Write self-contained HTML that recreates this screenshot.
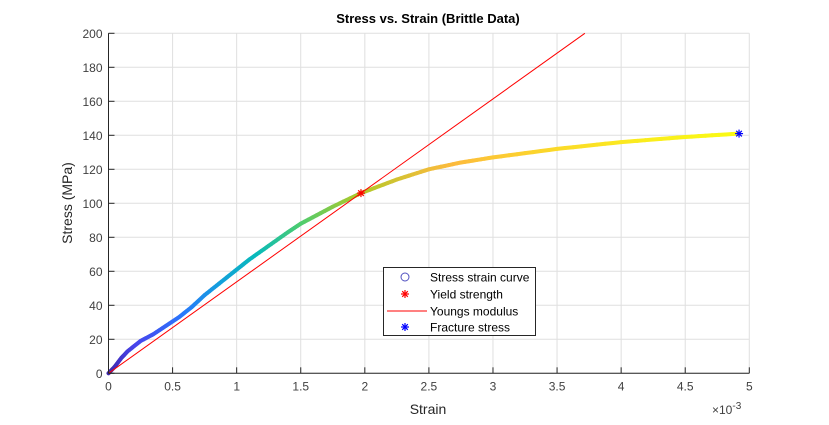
<!DOCTYPE html>
<html><head><meta charset="utf-8"><style>
body{margin:0;background:#fff;}
svg text{font-family:"Liberation Sans",Arial,sans-serif;}
</style></head><body>
<svg id="chart" width="829" height="420">
<g id="grid"></g>
<g id="series"></g>
<g id="axes"></g>
<text x="428" y="23" text-anchor="middle" font-size="13" font-weight="bold" fill="#000">Stress vs. Strain (Brittle Data)</text>
<text x="428" y="414" text-anchor="middle" font-size="14" fill="#262626">Strain</text>
<text x="712" y="414" font-size="12" fill="#404040">×10<tspan dy="-5" font-size="10">-3</tspan></text>
<text transform="translate(72,203) rotate(-90)" text-anchor="middle" font-size="14" fill="#262626">Stress (MPa)</text>
<g id="legend">
<rect x="383.5" y="267.5" width="152" height="68" fill="#fff" stroke="#262626" stroke-width="1"/>
<circle cx="405" cy="277" r="4" fill="none" stroke="#5050c0" stroke-width="1"/>
<text x="430" y="281.5" font-size="12" fill="#000">Stress strain curve</text>
<text x="430" y="298.5" font-size="12" fill="#000">Yield strength</text>
<line x1="387" y1="311" x2="427" y2="311" stroke="#f00" stroke-width="1"/>
<text x="430" y="315.5" font-size="12" fill="#000">Youngs modulus</text>
<text x="430" y="331.5" font-size="12" fill="#000">Fracture stress</text>
</g>
</svg>
<script>
const strain=[0,0.05,0.1,0.15,0.25,0.35,0.45,0.55,0.65,0.75,0.9,1.0,1.1,1.25,1.4,1.5,1.75,1.97,2.25,2.5,2.75,3.0,3.5,4.0,4.5,4.92];
const stress=[0,4,9,13,19,23,28,33,39,46,55,61,67,75,83,88,98,106,114,120,124,127,132,136,139,141];
const yieldPt=[1.97,106];
const fracturePt=[4.92,141];
const xTicks=[0,0.5,1,1.5,2,2.5,3,3.5,4,4.5,5];
const yTicks=[0,20,40,60,80,100,120,140,160,180,200];
const NS='http://www.w3.org/2000/svg';
const X0=108.5,X1=749.3,Y0=373.3,Y1=33.3;
const xs=v=>X0+(v-0)/(5-0)*(X1-X0);
const ys=v=>Y0-(v-0)/(200-0)*(Y0-Y1);
function mk(tag,at,parent){const e=document.createElementNS(NS,tag);for(const k in at)e.setAttribute(k,at[k]);parent.appendChild(e);return e;}
const grid=document.getElementById('grid'),axes=document.getElementById('axes'),series=document.getElementById('series'),legend=document.getElementById('legend');
xTicks.forEach(t=>{
 const g=mk('line',{x1:xs(t),x2:xs(t),y1:Y1,y2:Y0,stroke:'#dfdfdf','stroke-width':1},grid);
 
 
 const tk=mk('line',{x1:xs(t),x2:xs(t),y1:Y0,y2:Y0-6,stroke:'#262626','stroke-width':1},axes);
 
 
 const tx=mk('text',{x:xs(t),y:Y0+17,'text-anchor':'middle','font-size':12,fill:'#404040'},axes);
 tx.textContent=String(t);
 
 
});
yTicks.forEach(t=>{
 const g=mk('line',{x1:X0,x2:X1,y1:ys(t),y2:ys(t),stroke:'#dfdfdf','stroke-width':1},grid);
 
 
 const tk=mk('line',{x1:X0,x2:X0+6,y1:ys(t),y2:ys(t),stroke:'#262626','stroke-width':1},axes);
 
 
 const tx=mk('text',{x:X0-6,y:ys(t)+4.5,'text-anchor':'end','font-size':12,fill:'#404040'},axes);
 tx.textContent=String(t);
 
 
});
const ax1=mk('line',{x1:X0,x2:X0,y1:Y1,y2:Y0,stroke:'#262626','stroke-width':1},axes);


const ax2=mk('line',{x1:X0,x2:X1,y1:Y0,y2:Y0,stroke:'#262626','stroke-width':1},axes);


const cm=[[0.24,0.15,0.66],[0.28,0.27,0.93],[0.16,0.47,0.99],[0.08,0.62,0.87],[0.03,0.73,0.73],[0.30,0.80,0.44],[0.68,0.79,0.16],[0.99,0.73,0.24],[0.98,0.98,0.08]];
function col(f){f=Math.max(0,Math.min(1,f));const p=f*(cm.length-1),i=Math.min(cm.length-2,Math.floor(p)),r=p-i;const c=cm[i].map((v,k)=>Math.round(255*(v+(cm[i+1][k]-v)*r)));return `rgb(${c})`;}
const smax=Math.max(...stress);
for(let i=0;i<strain.length-1;i++){
 const n=8;
 for(let j=0;j<n;j++){
  const a=j/n,b=(j+1)/n;
  const sa=strain[i]+(strain[i+1]-strain[i])*a,sb=strain[i]+(strain[i+1]-strain[i])*b;
  const ta=stress[i]+(stress[i+1]-stress[i])*a,tb=stress[i]+(stress[i+1]-stress[i])*b;
  const l=mk('line',{x1:xs(sa),y1:ys(ta),x2:xs(sb),y2:ys(tb),stroke:col((ta+tb)/2/smax),'stroke-width':4,'stroke-linecap':'round'},series);
  
  
 }
}
const slope=yieldPt[1]/yieldPt[0];
const xe=200/slope;
const yl=mk('line',{x1:xs(0),y1:ys(0),x2:xs(xe),y2:ys(200),stroke:'#f00','stroke-width':1},series);


function starAt(cx,cy,c,name,parent){
 const g=mk('g',{},parent);
 
 
 const r=4;
 [[r,0],[0,r],[r*0.7,r*0.7],[r*0.7,-r*0.7]].forEach(d=>mk('line',{x1:cx-d[0],y1:cy-d[1],x2:cx+d[0],y2:cy+d[1],stroke:c,'stroke-width':1.2},g));
}
starAt(xs(yieldPt[0]),ys(yieldPt[1]),'#f00','yield-strength-marker',series);
starAt(xs(fracturePt[0]),ys(fracturePt[1]),'#00f','fracture-stress-marker',series);
starAt(405,294,'#f00','legend-yield-marker',legend);
starAt(405,327,'#00f','legend-fracture-marker',legend);
</script>
</body></html>
